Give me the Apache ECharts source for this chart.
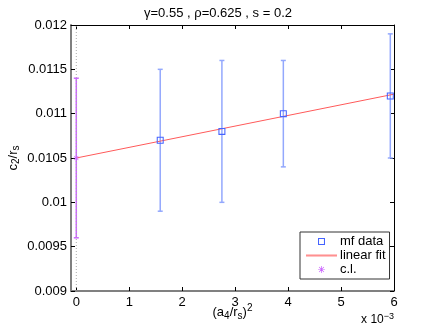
<!DOCTYPE html>
<html>
<head>
<meta charset="utf-8">
<script src="https://cdn.jsdelivr.net/npm/echarts@6/dist/echarts.min.js"></script>
<style>
html, body { margin: 0; padding: 0; background: #fff; }
#main { width: 436px; height: 328px; }
</style>
</head>
<body>
<div id="main"></div>
<script>
// mf data points (x in units of 1e-3)
var mfX = [1.585, 2.75, 3.91, 5.93],
    mfY = [0.0107, 0.0108, 0.0110, 0.0112],
    mfLow = [0.0099, 0.0100, 0.0104, 0.0105],
    mfHigh = [0.0115, 0.0116, 0.0116, 0.0119];
// continuum limit
var clX = [0],
    clY = [0.0105],
    clLow = [0.0096],
    clHigh = [0.0114];
// linear fit end points
var fitX = [0, 6],
    fitY = [0.0105, 0.01122];
var xTicks = [0, 1, 2, 3, 4, 5, 6];

var font = '"Liberation Sans", Arial, sans-serif',
    blue = '#4563ff',
    barBlue = '#93a8fd',
    magenta = '#cc66ff',
    red = '#ff5a5a',
    square = 'path://M0 0H10V10H0Z M1.5 1.5V8.5H8.5V1.5Z',
    star = 'path://M4.5 0h1v10h-1z M0 4.5h10v1h-10z M1.2 1.9l0.7-0.7 6.9 6.9-0.7 0.7z M8.1 1.2l0.7 0.7-6.9 6.9-0.7-0.7z',
    dash = 'path://M0 0H30V2H0Z';

function zip(a, b, c) {
    return a.map(function (v, i) { return c ? [v, b[i], c[i]] : [v, b[i]]; });
}

function errorBar(color) {
    return function (params, api) {
        var top = api.coord([api.value(0), api.value(2)]),
            bot = api.coord([api.value(0), api.value(1)]),
            w = 2.5,
            style = { stroke: color, lineWidth: 1.5 };
        return {
            type: 'group',
            children: [
                { type: 'line', shape: { x1: top[0], y1: top[1], x2: bot[0], y2: bot[1] }, style: style },
                { type: 'line', shape: { x1: top[0] - w, y1: top[1], x2: top[0] + w, y2: top[1] }, style: style },
                { type: 'line', shape: { x1: bot[0] - w, y1: bot[1], x2: bot[0] + w, y2: bot[1] }, style: style }
            ]
        };
    };
}

var myChart = echarts.init(document.getElementById('main'), null, { renderer: 'canvas' }),
    tickStyle = { show: true, inside: true, length: 4, lineStyle: { color: '#000' } },
    option = {
        animation: false,
        textStyle: { fontFamily: font },
        title: {
            text: 'γ=0.55 , ρ=0.625 , s = 0.2',
            left: 'center',
            top: 2,
            textStyle: { fontFamily: font, fontSize: 13, fontWeight: 'normal', color: '#000' }
        },
        grid: { left: 71, right: 42, top: 25, bottom: 37, containLabel: false, outerBoundsMode: 'none' },
        legend: {
            orient: 'vertical',
            left: 300,
            top: 232,
            width: 90,
            padding: [3, 4, 3, 6],
            itemGap: 1,
            itemWidth: 31,
            itemHeight: 7,
            backgroundColor: '#fff',
            borderColor: '#333',
            borderWidth: 1,
            borderRadius: 0,
            textStyle: { fontFamily: font, fontSize: 13, color: '#000', padding: [0, 0, 0, -2] },
            data: [
                { name: 'mf data', icon: square },
                { name: 'linear fit', icon: dash, itemStyle: { color: '#ff9090' } },
                { name: 'c.l.', icon: star }
            ]
        },
        xAxis: [{
            type: 'value',
            min: -0.1,
            max: 6,
            position: 'bottom',
            splitLine: { show: false },
            axisLine: { onZero: false, lineStyle: { color: '#808080', width: 2 } },
            axisTick: Object.assign({ customValues: xTicks }, tickStyle),
            axisLabel: { customValues: xTicks, margin: 5, fontSize: 13, color: '#000', fontFamily: font },
            name: '{n|(a}{sub|4}{n|/r}{sub|s}{n|)}{sup|2}',
            nameLocation: 'middle',
            nameGap: 12,
            nameMoveOverlap: false,
            nameTextStyle: {
                rich: {
                    n: { fontSize: 13, color: '#000', fontFamily: font },
                    sub: { fontSize: 10, color: '#000', fontFamily: font, verticalAlign: 'bottom', padding: [6, 0, 0, 0] },
                    sup: { fontSize: 10, color: '#000', fontFamily: font, verticalAlign: 'top', padding: [0, 0, 8, 0] }
                }
            }
        }, {
            type: 'value',
            min: -0.1,
            max: 6,
            position: 'top',
            splitLine: { show: false },
            axisLine: { onZero: false, lineStyle: { color: '#000', width: 1 } },
            axisTick: Object.assign({ customValues: xTicks }, tickStyle),
            axisLabel: { show: false }
        }],
        yAxis: [{
            type: 'value',
            min: 0.009,
            max: 0.012,
            interval: 0.0005,
            position: 'left',
            splitLine: { show: false },
            axisLine: { show: true, onZero: false, lineStyle: { color: '#808080', width: 2 } },
            axisTick: tickStyle,
            axisLabel: {
                margin: 4, fontSize: 13, color: '#000', fontFamily: font,
                formatter: function (v) { return String(+v.toFixed(5)); }
            },
            name: '{n|c}{sub|2}{n|/r}{sub|s}',
            nameLocation: 'middle',
            nameRotate: 90,
            nameGap: 50,
            nameMoveOverlap: false,
            nameTextStyle: {
                rich: {
                    n: { fontSize: 13, color: '#000', fontFamily: font },
                    sub: { fontSize: 10, color: '#000', fontFamily: font, verticalAlign: 'bottom', padding: [6, 0, 0, 0] }
                }
            }
        }, {
            type: 'value',
            min: 0.009,
            max: 0.012,
            interval: 0.0005,
            position: 'right',
            splitLine: { show: false },
            axisLine: { show: true, onZero: false, lineStyle: { color: '#000', width: 1 } },
            axisTick: tickStyle,
            axisLabel: { show: false }
        }],
        graphic: [{
            type: 'text',
            right: 42,
            top: 312,
            style: {
                text: '{n|x 10}{sup|−3}',
                rich: {
                    n: { fontSize: 12, fill: '#000', fontFamily: font },
                    sup: { fontSize: 9, fill: '#000', fontFamily: font, verticalAlign: 'top', padding: [0, 0, 7, 0] }
                }
            }
        }],
        series: [
            {
                name: 'zero',
                type: 'line',
                data: [[0, 0.009], [0, 0.012]],
                symbol: 'none',
                silent: true,
                lineStyle: { color: '#aaa', width: 1, type: [1, 2] }
            },
            {
                name: 'mf err',
                type: 'custom',
                renderItem: errorBar(barBlue),
                data: zip(mfX, mfLow, mfHigh),
                encode: { x: 0, y: [1, 2] },
                z: 2
            },
            {
                name: 'cl err',
                type: 'custom',
                renderItem: errorBar(magenta),
                data: zip(clX, clLow, clHigh),
                encode: { x: 0, y: [1, 2] },
                z: 2
            },
            {
                name: 'linear fit',
                type: 'line',
                data: zip(fitX, fitY),
                symbol: 'none',
                lineStyle: { color: red, width: 1 },
                itemStyle: { color: red },
                z: 3
            },
            {
                name: 'mf data',
                type: 'scatter',
                data: zip(mfX, mfY),
                symbol: square,
                symbolSize: 7,
                itemStyle: { color: blue, opacity: 1 },
                z: 4
            },
            {
                name: 'c.l.',
                type: 'scatter',
                data: zip(clX, clY),
                symbol: star,
                symbolSize: 6,
                itemStyle: { color: magenta, opacity: 1 },
                z: 4
            }
        ]
    };

myChart.setOption(option);
</script>
</body>
</html>
